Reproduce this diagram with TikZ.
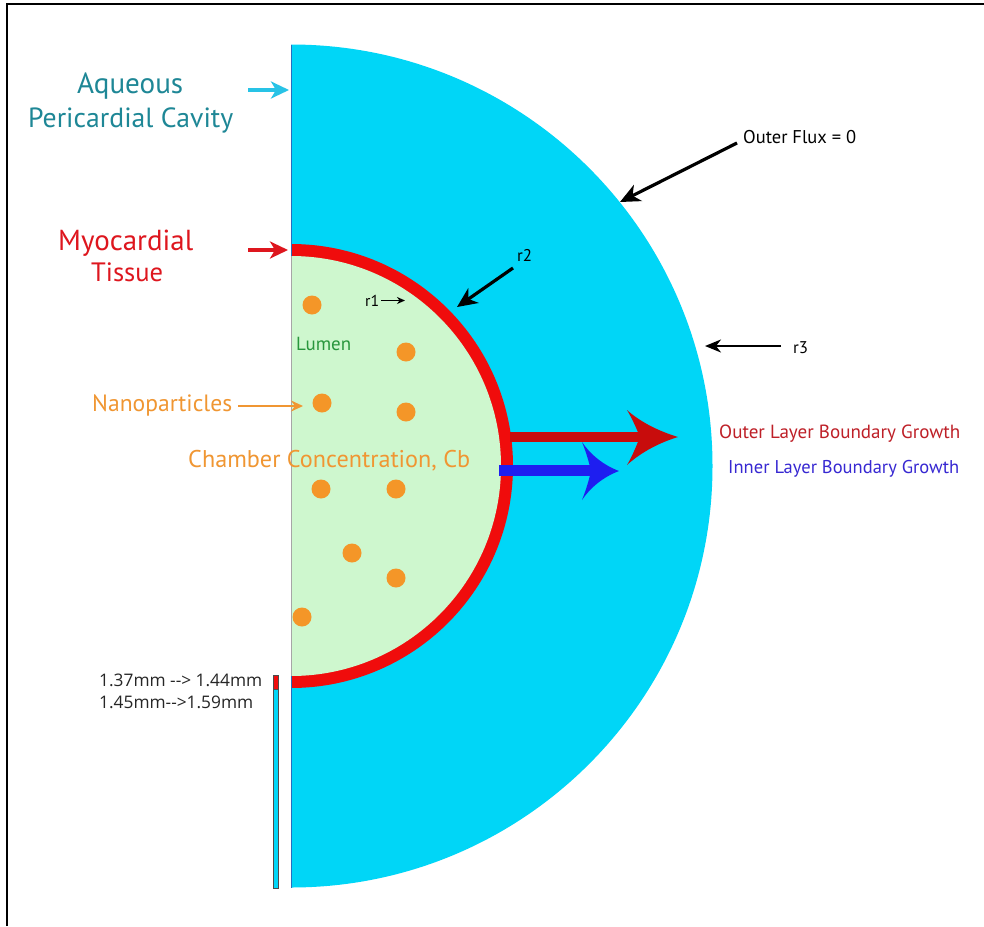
\documentclass[tikz,border=0pt]{standalone}
\usepackage{fontspec}
\setmainfont{PT Sans}
\newfontfamily\numfont{Open Sans}
\usetikzlibrary{arrows.meta}
\definecolor{cavity}{RGB}{0,214,247}
\definecolor{lumen}{RGB}{206,247,206}
\definecolor{ring}{RGB}{240,12,12}
\definecolor{edgeblue}{RGB}{40,110,190}
\definecolor{dotorange}{RGB}{244,150,40}
\definecolor{teal}{RGB}{30,135,150}
\definecolor{cyanarrow}{RGB}{40,195,230}
\definecolor{myored}{RGB}{222,22,30}
\definecolor{lumengreen}{RGB}{40,150,60}
\definecolor{txtorange}{RGB}{240,150,50}
\definecolor{growred}{RGB}{200,12,12}
\definecolor{growredtxt}{RGB}{190,32,40}
\definecolor{growblue}{RGB}{30,30,240}
\definecolor{growbluetxt}{RGB}{55,40,210}
\newcommand\fitw[2]{\resizebox{#1}{!}{#2}}
\begin{document}
\begin{tikzpicture}[x=1pt,y=-1pt,
  txt/.style={inner sep=0pt, anchor=base west},
  dot/.style={circle, fill=dotorange, inner sep=0pt, minimum size=19pt},
  blackarrow/.style={draw=black, line width=3.2pt, -{Stealth[length=20pt,width=18pt,inset=6pt]}},
  colarrow/.style={line width=3.4pt, -{Stealth[length=18pt,width=17pt,inset=5pt]}}
]
\useasboundingbox (0,0) rectangle (984,926);
\fill[white] (0,0) rectangle (984,926);
% frame
\draw[black, line width=2pt] (7,926) -- (7,4) -- (984,4);

% half discs
\begin{scope}
  \clip (291,0) rectangle (984,926);
  \fill[cavity] (291,466) circle[radius=421.5];
  \fill[ring] (291,466) circle[radius=222];
  \fill[lumen] (291,466) circle[radius=210];
\end{scope}
\draw[edgeblue, line width=0.9pt] (291,44.5) -- (291,256);
\draw[black!35, line width=0.7pt] (291,256) -- (291,676);
\draw[edgeblue, line width=0.9pt] (291,676) -- (291,887.5);

% thickness bar
\fill[ring] (273,675) rectangle (278.5,689);
\fill[cavity] (273,689) rectangle (278.5,888);
\draw[black!70, line width=0.6pt] (273,675) rectangle (278.5,888);
\draw[black!70, line width=0.6pt] (273,689) -- (278.5,689);

% nanoparticles
\node[dot] (d1) at (312,305) {};
\node[dot] (d2) at (406,352) {};
\node[dot] (d3) at (322,403) {};
\node[dot] (d4) at (406,412) {};
\node[dot] (d5) at (321,489) {};
\node[dot] (d6) at (396,489) {};
\node[dot] (d7) at (352,553) {};
\node[dot] (d8) at (396,578) {};
\node[dot] (d9) at (302,617) {};

% growth arrows
\fill[growred] (510,432) rectangle (641,442);
\fill[growred] (678,437) .. controls (655,430) and (638,420) .. (627,410)
  .. controls (633,420) and (637,430) .. (640,437)
  .. controls (637,444) and (633,455) .. (627,465)
  .. controls (638,455) and (655,444) .. (678,437) -- cycle;
\fill[growblue] (499,465) rectangle (592,476);
\fill[growblue] (619,471) .. controls (603,465) and (590,454) .. (582,442)
  .. controls (586,452) and (589,462) .. (591,471)
  .. controls (589,480) and (586,490) .. (582,500)
  .. controls (590,488) and (603,477) .. (619,471) -- cycle;

% left labels
\node[txt, text=teal] (aq1) at (77,93) {\fitw{106pt}{Aqueous}};
\node[txt, text=teal] (aq2) at (28,127) {\fitw{205pt}{Pericardial Cavity}};
\coordinate (aqS) at (248,90);
\coordinate (aqE) at (289,90);
\draw[colarrow, draw=cyanarrow] (aqS) -- (aqE);

\node[txt, text=myored] (my1) at (58,250) {\fitw{135pt}{Myocardial}};
\node[txt, text=myored] (my2) at (91,281) {\fitw{72pt}{Tissue}};
\coordinate (myS) at (248,250);
\coordinate (myE) at (288,250);
\draw[colarrow, draw=myored] (myS) -- (myE);

\node[txt, text=txtorange] (np) at (92,411) {\fitw{140pt}{Nanoparticles}};
\coordinate (npS) at (238,406);
\coordinate (npE) at (303,406);
\draw[txtorange, line width=2pt, -{Stealth[length=12pt,width=11pt,inset=4pt]}] (npS) -- (npE);

\node[txt, text=lumengreen] (lu) at (296,350) {\fitw{55pt}{Lumen}};
\node[txt, text=txtorange] (cb) at (188,467) {\fitw{282pt}{Chamber Concentration, Cb}};

% radii
\node[txt, text=black] (r1) at (365,306) {\fitw{14pt}{r1}};
\coordinate (r1S) at (381,300.5);
\coordinate (r1E) at (405,300.5);
\draw[black, line width=1.3pt, -{Stealth[length=8pt,width=7pt,inset=2.5pt]}] (r1S) -- (r1E);

\node[txt, text=black] (r2) at (517,261) {\fitw{15pt}{r2}};
\coordinate (r2S) at (513,268);
\coordinate (r2E) at (457,307);
\draw[blackarrow] (r2S) -- (r2E);

\node[txt, text=black] (of) at (743,143) {\fitw{113pt}{Outer Flux = 0}};
\coordinate (ofS) at (737,143);
\coordinate (ofE) at (620,202);
\draw[blackarrow] (ofS) -- (ofE);

\node[txt, text=black] (r3) at (793,353) {\fitw{15pt}{r3}};
\coordinate (r3S) at (781,346);
\coordinate (r3E) at (705,346);
\draw[black, line width=2.2pt, -{Stealth[length=16pt,width=13pt,inset=5pt]}] (r3S) -- (r3E);

% growth labels
\node[txt, text=growredtxt] (ol) at (719,438) {\fitw{241pt}{Outer Layer Boundary Growth}};
\node[txt, text=growbluetxt] (il) at (728,473) {\fitw{231pt}{Inner Layer Boundary Growth}};

% thickness labels
\node[txt, text=black!85] (t1) at (99,686) {\numfont\fitw{163pt}{1.37mm --> 1.44mm}};
\node[txt, text=black!85] (t2) at (99,708) {\numfont\fitw{154pt}{1.45mm-->1.59mm}};
\end{tikzpicture}
\end{document}
